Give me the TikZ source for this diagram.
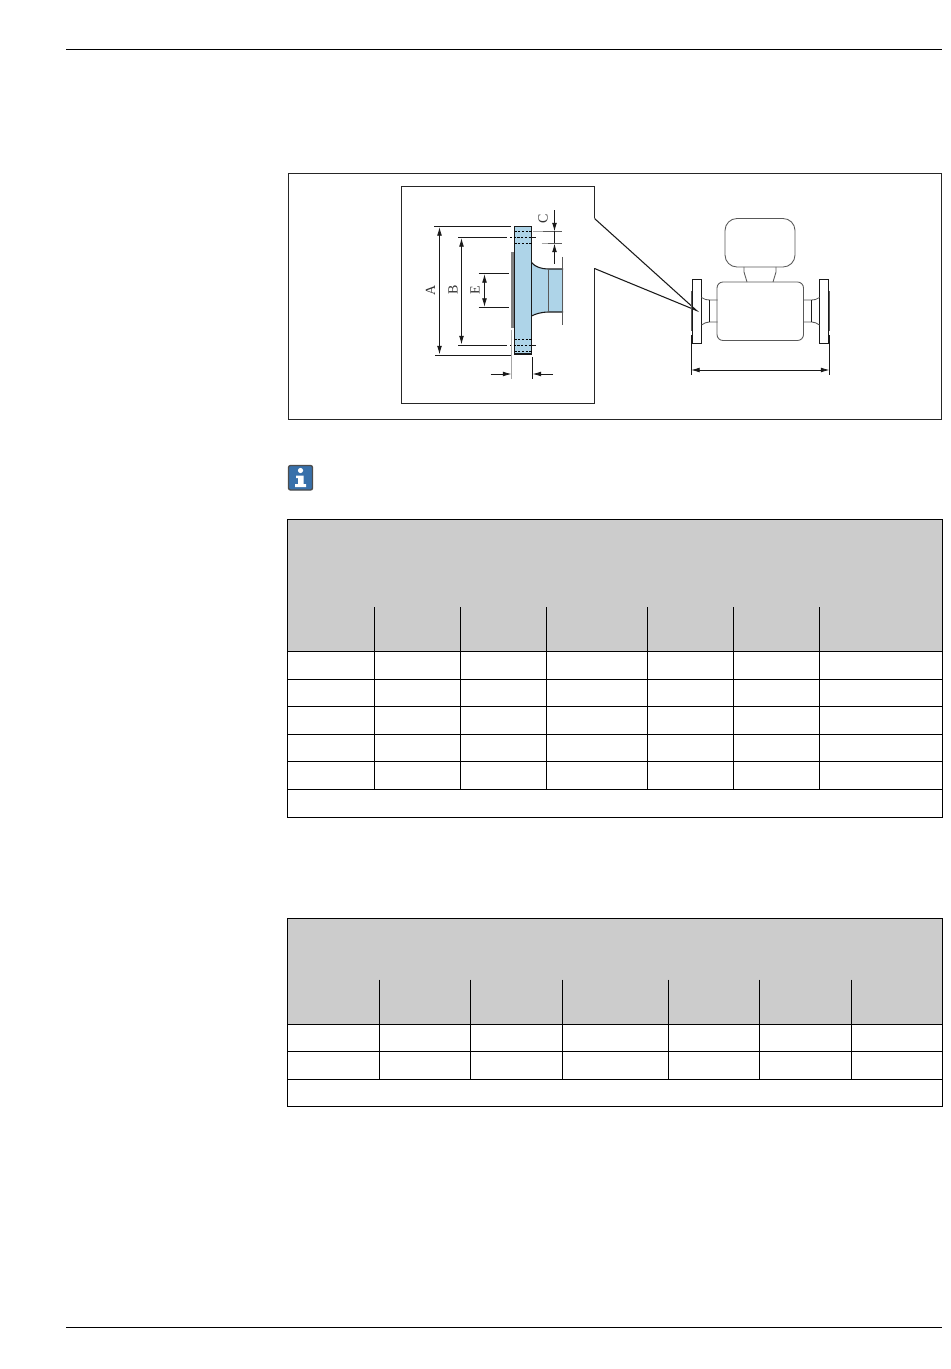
\documentclass[tikz,border=0pt]{standalone}
\usepackage{fontspec}
\setmainfont{Liberation Serif}
\usetikzlibrary{arrows.meta}
\definecolor{flangeblue}{RGB}{174,212,232}
\definecolor{infoblue}{RGB}{56,112,170}
\tikzset{
  pagerule/.style={draw=black, line width=0.75pt},
  tableline/.style={draw=black, line width=0.8pt},
  headfill/.style={fill=black!20},
  partline/.style={draw=black!90, line width=0.8pt},
  thinpart/.style={draw=black!65, line width=0.65pt},
  paleline/.style={draw=black!35, line width=0.7pt},
  dimline/.style={draw=black!90, line width=0.6pt},
  dimarrow/.style={dimline, {Latex[length=6.5pt,width=3.6pt]}-{Latex[length=6.5pt,width=3.6pt]}},
  onearrow/.style={dimline, -{Latex[length=6.5pt,width=3.6pt]}},
  holeline/.style={draw=black, line width=0.55pt, dash pattern=on 1.6pt off 1.2pt},
  letter/.style={font=\fontsize{10.5}{10.5}\selectfont, text=black!80, inner sep=0pt, rotate=90},
}
% flange of the small device view, #1 = x of outer edge, #2 = direction
\newcommand{\smallFlange}[2]{%
  \begin{scope}[shift={(#1,0)},xscale=#2]
    \draw[partline] (0,279.5) rectangle (9,343.5);
    \draw[thinpart] (-1.3,291.5) -- (-1.3,331);
    \draw[thinpart] (9,297.5) .. controls (12,299.5) and (14,300) .. (17,300) -- (25,300);
    \draw[thinpart] (9,325) .. controls (12,323) and (14,322) .. (17,322) -- (25,322);
    \draw[partline] (17,300) -- (17,322);
  \end{scope}%
}
\begin{document}
\begin{tikzpicture}[x=0.75pt,y=-0.75pt]
  \useasboundingbox (0,0) rectangle (950,1369);

  % --- page rules ---
  \draw[pagerule] (66,49.5) -- (942,49.5);
  \draw[pagerule] (66,1327.5) -- (942,1327.5);

  % --- figure frame ---
  \draw[draw=black!85, line width=0.75pt] (288.5,173.5) rectangle (941.5,419.5);
  \draw[draw=black!85, line width=0.75pt]
    (594.5,218.5) -- (594.5,186.5) -- (401,186.5) -- (401,403.5) -- (594.5,403.5) -- (594.5,268.5);
  \draw[partline] (594.5,218.5) -- (696.5,310.5) -- (594.5,268.5);

  % =========================
  %  DETAIL OF THE FLANGE
  % =========================
  \fill[fill=black!50] (511,252) rectangle (514.5,328);
  \fill[flangeblue]
    (531.5,262.5) .. controls (535,267) and (542,269) .. (548,269) -- (563,269)
    -- (563,312) -- (548,312) .. controls (542,312) and (535,314) .. (531.5,316) -- cycle;
  \draw[partline] (531.5,262.5) .. controls (535,267) and (542,269) .. (548,269) -- (563,269);
  \draw[partline] (531.5,316) .. controls (535,314) and (542,312) .. (548,312) -- (563,312);
  \draw[partline, fill=flangeblue] (514.5,226.5) rectangle (531.5,354);
  \draw[thinpart] (548,269) -- (548,312);
  \draw[thinpart] (562.5,257) -- (562.5,325);

  % bolt holes
  \draw[holeline] (514.5,231.5) -- (531.5,231.5);
  \draw[holeline] (514.5,243) -- (531.5,243);
  \draw[holeline] (514.5,339) -- (531.5,339);
  \draw[holeline] (514.5,351) -- (531.5,351);
  \draw[holeline] (510,237.5) -- (532,237.5);
  \draw[holeline] (510,345) -- (532,345);

  % --- dimension lines ---
  \draw[dimline] (434,226.5) -- (510.5,226.5);
  \draw[dimline] (435,355) -- (511,355);
  \draw[dimline] (458,237.5) -- (507,237.5);
  \draw[dimline] (532,237.5) -- (536,237.5);
  \draw[dimline] (458,345) -- (507,345);
  \draw[dimline] (532,345) -- (536,345);
  \draw[dimline] (478.5,273.5) -- (509,273.5);
  \draw[dimline] (478.5,307.5) -- (509,307.5);
  \draw[paleline] (533,231.5) -- (543,231.5);
  \draw[thinpart] (543,231.5) -- (561.5,231.5);
  \draw[paleline] (541.5,243) -- (548,243);
  \draw[thinpart] (548,243) -- (561.5,243);

  \draw[dimarrow] (439.5,227) -- (439.5,354.5);
  \draw[dimarrow] (461.5,238) -- (461.5,344.5);
  \draw[dimarrow] (484.5,274) -- (484.5,307);
  \draw[onearrow] (554.5,210.5) -- (554.5,231.5);
  \draw[onearrow] (554.5,264) -- (554.5,243.5);
  \draw[dimline] (554.5,231.5) -- (554.5,243);

  \draw[paleline] (511.5,330) -- (511.5,379);
  \draw[dimline] (532.5,357) -- (532.5,379);
  \draw[onearrow] (490.5,374) -- (511.5,374);
  \draw[onearrow] (553,374) -- (532.5,374);

  \node[letter] (labelA) at (430.5,290) {A};
  \node[letter] (labelB) at (453,290) {B};
  \node[letter] (labelE) at (475,290) {E};
  \node[letter] (labelC) at (543,219) {C};

  % =========================
  %  DEVICE VIEW
  % =========================
  \draw[thinpart] (744,267) -- (744,272) -- (747,282);
  \draw[thinpart] (776,267) -- (776,272) -- (773,282);
  \draw[thinpart, rounded corners=9pt] (725,218.5) rectangle (795,267);
  \draw[thinpart, rounded corners=4.5pt] (717,282) rectangle (803.5,340.5);

  \smallFlange{692.5}{1}
  \smallFlange{828.5}{-1}

  \draw[dimline] (691,335) -- (691,374.5);
  \draw[dimline] (829.5,335) -- (829.5,374.5);
  \draw[dimarrow] (691,370) -- (829.5,370);

  % --- info icon ---
  \draw[fill=infoblue, draw=black!70, line width=1pt, rounded corners=1.5pt] (288.5,465.5) rectangle (312.5,490);
  \fill[white] (300.5,470.5) circle (2.6);
  \fill[white] (296,475.5) -- (303.5,475.5) -- (303.5,484) -- (306,484) -- (306,487) -- (295,487)
    -- (295,484) -- (298,484) -- (298,478) -- (296,478) -- cycle;

  % =========================
  %  FIRST TABLE
  % =========================
  \fill[headfill] (287.5,519.5) rectangle (942.5,651.5);
  \foreach \rowy in {651.5,679.5,706.5,734.5,761.5,789.5}
    \draw[tableline] (287.5,\rowy) -- (942.5,\rowy);
  \foreach \colx in {374.5,460.5,546.5,647.5,733.5,819.5}
    \draw[tableline] (\colx,607) -- (\colx,789.5);
  \draw[tableline] (287.5,519.5) rectangle (942.5,817.5);

  % =========================
  %  SECOND TABLE
  % =========================
  \fill[headfill] (287.5,918.5) rectangle (942.5,1024.5);
  \foreach \rowy in {1024.5,1051.5,1079.5}
    \draw[tableline] (287.5,\rowy) -- (942.5,\rowy);
  \foreach \colx in {379.5,470.5,562.5,668.5,759.5,851.5}
    \draw[tableline] (\colx,979.5) -- (\colx,1079.5);
  \draw[tableline] (287.5,918.5) rectangle (942.5,1106.5);

\end{tikzpicture}
\end{document}
